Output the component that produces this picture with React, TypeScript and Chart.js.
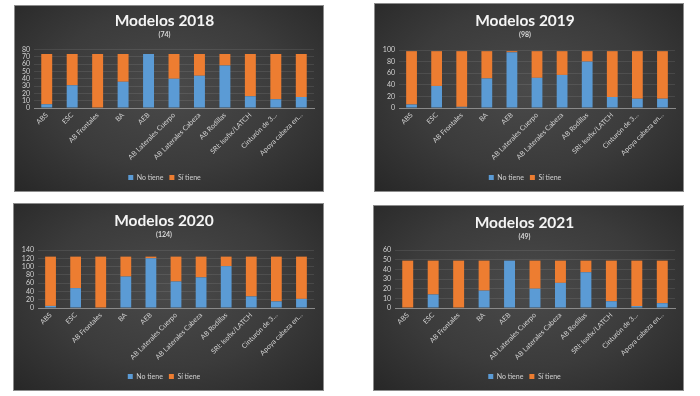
import React, { useEffect, useRef } from "react";
import { Chart, registerables } from "chart.js";

Chart.register(...registerables);

const categories = [
  "ABS",
  "ESC",
  "AB Frontales",
  "BA",
  "AEB",
  "AB Laterales Cuerpo",
  "AB Laterales Cabeza",
  "AB Rodillas",
  "SRI: Isofix/LATCH",
  "Cinturón de 3…",
  "Apoya cabeza en…",
];

const seriesNames = ["No tiene", "Sí tiene"];

const noTiene2018 = [5, 31, 0, 36, 74, 40, 44, 58, 16, 12, 15];
const siTiene2018 = [69, 43, 74, 38, 0, 34, 30, 16, 58, 62, 59];

const noTiene2019 = [6, 38, 2, 51, 96, 52, 57, 80, 19, 16, 16];
const siTiene2019 = [92, 60, 96, 47, 2, 46, 41, 18, 79, 82, 82];

const noTiene2020 = [5, 48, 0, 76, 120, 64, 74, 101, 28, 16, 22];
const siTiene2020 = [119, 76, 124, 48, 4, 60, 50, 23, 96, 108, 102];

const noTiene2021 = [0, 14, 0, 18, 49, 20, 26, 37, 7, 2, 5];
const siTiene2021 = [49, 35, 49, 31, 0, 29, 23, 12, 42, 47, 44];

const titles = ["Modelos 2018", "Modelos 2019", "Modelos 2020", "Modelos 2021"];
const subtitles = ["(74)", "(98)", "(124)", "(49)"];
const axisMax = [80, 100, 140, 60];
const axisStep = [10, 20, 20, 10];

const BLUE = "#5b9bd5";
const ORANGE = "#ed7d31";
const FONT = 'Lato, "Open Sans", "DejaVu Sans", sans-serif';

type Layout = {
  left: number;
  top: number;
  width: number;
  height: number;
  plotLeft: number;
  plotRight: number;
  plotTop: number;
  plotBottom: number;
  titleY: number;
  subY: number;
  legendY: number;
};

const layouts: Layout[] = [
  { left: 15, top: 6, width: 308, height: 185, plotLeft: 19, plotRight: 299, plotTop: 43, plotBottom: 102, titleY: 15, subY: 28, legendY: 172 },
  { left: 375, top: 4, width: 308, height: 187, plotLeft: 24, plotRight: 300, plotTop: 46, plotBottom: 104, titleY: 17, subY: 31, legendY: 174 },
  { left: 14, top: 204, width: 309, height: 186, plotLeft: 24, plotRight: 300, plotTop: 46, plotBottom: 104, titleY: 17, subY: 31, legendY: 174 },
  { left: 374, top: 206, width: 309, height: 184, plotLeft: 21, plotRight: 301, plotTop: 44, plotBottom: 102, titleY: 17, subY: 31, legendY: 172 },
];

const noSeries = [noTiene2018, noTiene2019, noTiene2020, noTiene2021];
const siSeries = [siTiene2018, siTiene2019, siTiene2020, siTiene2021];

function Panel({ idx }: { idx: number }) {
  const ref = useRef<HTMLCanvasElement | null>(null);
  const L = layouts[idx];

  useEffect(() => {
    if (!ref.current) return;
    const titleSize = 15.5;
    const subSize = 7;
    const titleLH = titleSize * 1.2;
    const subLH = subSize * 1.2;
    const titlePadTop = Math.max(0, L.titleY - titleLH / 2);
    const subPadTop = Math.max(0, L.subY - subLH / 2 - (L.titleY + titleLH / 2));
    const subPadBottom = Math.max(0, L.plotTop - (L.subY + subLH / 2));
    const lp = 6;
    const legendH = 7 + lp + 10;
    const wantedLegendTop = L.legendY - lp - 3.5;
    const padBottom = Math.max(0, L.height - (wantedLegendTop + legendH));
    const legendTop = L.height - padBottom - legendH;
    const xH = legendTop - L.plotBottom;

    const chart = new Chart(ref.current, {
      type: "bar",
      data: {
        labels: categories,
        datasets: [
          {
            label: seriesNames[0],
            data: noSeries[idx],
            backgroundColor: BLUE,
            barPercentage: 0.43,
            categoryPercentage: 1,
          },
          {
            label: seriesNames[1],
            data: siSeries[idx],
            backgroundColor: ORANGE,
            barPercentage: 0.43,
            categoryPercentage: 1,
          },
        ],
      },
      options: {
        responsive: false,
        animation: false,
        layout: {
          padding: { left: 0, right: L.width - L.plotRight, top: 0, bottom: padBottom },
        },
        plugins: {
          title: {
            display: true,
            text: titles[idx],
            color: "#f4f4f4",
            font: { family: FONT, size: titleSize, weight: "bold" },
            padding: { top: titlePadTop, bottom: 0 },
          },
          subtitle: {
            display: true,
            text: subtitles[idx],
            color: "#d9d9d9",
            font: { family: FONT, size: subSize, weight: "bold" },
            padding: { top: subPadTop, bottom: subPadBottom },
          },
          legend: {
            position: "bottom",
            labels: {
              color: "#d0d0d0",
              boxWidth: 5,
              boxHeight: 5,
              padding: lp,
              font: { family: FONT, size: 7 },
            },
          },
          tooltip: { enabled: false },
        },
        scales: {
          x: {
            stacked: true,
            grid: { display: false, drawTicks: false },
            border: { display: true, color: "#8a8a8a", width: 1 },
            ticks: {
              color: "#d2d2d2",
              font: { family: FONT, size: 7 },
              maxRotation: 45,
              minRotation: 45,
              autoSkip: false,
              padding: 3,
            },
            afterFit: (s: any) => {
              s.height = xH;
            },
          },
          y: {
            stacked: true,
            min: 0,
            max: axisMax[idx],
            grid: { color: "rgba(255,255,255,0.09)", drawTicks: false },
            border: { display: false },
            ticks: {
              stepSize: axisStep[idx],
              autoSkip: false,
              color: "#d2d2d2",
              font: { family: FONT, size: 7 },
              padding: 4,
            },
            afterFit: (s: any) => {
              s.width = L.plotLeft;
            },
          },
        },
      },
    });
    return () => chart.destroy();
  }, [idx]);

  return (
    <div
      style={{
        position: "absolute",
        left: L.left - 1,
        top: L.top - 1,
        width: L.width,
        height: L.height,
        border: "1px solid #8c8c8c",
        background:
          "radial-gradient(ellipse at 50% 45%, #4a4a4a 0%, #3b3b3b 55%, #272727 100%)",
      }}
    >
      <canvas ref={ref} width={L.width} height={L.height} style={{ display: "block" }} />
    </div>
  );
}

export default function App() {
  return (
    <div
      style={{
        position: "absolute",
        left: 0,
        top: 0,
        width: 700,
        height: 396,
        background: "#ffffff",
        overflow: "hidden",
      }}
    >
      {[0, 1, 2, 3].map((i) => (
        <Panel key={i} idx={i} />
      ))}
    </div>
  );
}
